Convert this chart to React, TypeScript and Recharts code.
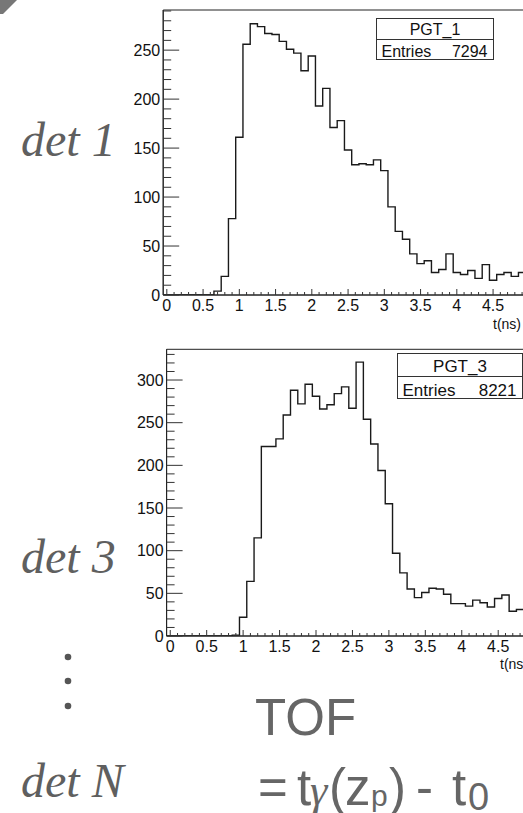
import { LineChart, Line, XAxis, YAxis, ReferenceArea } from 'recharts';

// bin centres (ns), both detectors share the same binning
const tBins = [
  0, 0.1, 0.2, 0.3, 0.4, 0.5, 0.6, 0.7, 0.8, 0.9,
  1, 1.1, 1.2, 1.3, 1.4, 1.5, 1.6, 1.7, 1.8, 1.9,
  2, 2.1, 2.2, 2.3, 2.4, 2.5, 2.6, 2.7, 2.8, 2.9,
  3, 3.1, 3.2, 3.3, 3.4, 3.5, 3.6, 3.7, 3.8, 3.9,
  4, 4.1, 4.2, 4.3, 4.4, 4.5, 4.6, 4.7, 4.8, 4.9,
];

const pgt1Counts = [
  0, 0, 0, 0, 0, 0, 0, 4, 19, 78,
  161, 256, 277, 274, 267, 266, 259, 251, 247, 229,
  244, 193, 211, 171, 178, 148, 133, 134, 133, 138,
  127, 90, 65, 57, 42, 32, 35, 23, 26, 42,
  23, 21, 25, 17, 31, 15, 21, 23, 19, 23,
];

const pgt3Counts = [
  0, 0, 0, 0, 0, 0, 0, 0, 0, 1,
  22, 64, 115, 222, 222, 231, 259, 288, 272, 295,
  281, 266, 271, 284, 292, 267, 321, 254, 225, 194,
  155, 97, 74, 55, 45, 51, 56, 55, 49, 38,
  38, 35, 42, 39, 34, 44, 48, 29, 31, 30,
];

const xTicks = tBins;
const xMajorTicks = [0, 0.5, 1, 1.5, 2, 2.5, 3, 3.5, 4, 4.5];

const y1Ticks = [
  0, 10, 20, 30, 40, 50, 60, 70, 80, 90, 100, 110, 120, 130, 140, 150,
  160, 170, 180, 190, 200, 210, 220, 230, 240, 250, 260, 270, 280, 290,
];
const y1MajorTicks = [0, 50, 100, 150, 200, 250];

const y3Ticks = [
  0, 10, 20, 30, 40, 50, 60, 70, 80, 90, 100, 110, 120, 130, 140, 150, 160,
  170, 180, 190, 200, 210, 220, 230, 240, 250, 260, 270, 280, 290, 300, 310,
  320, 330,
];
const y3MajorTicks = [0, 50, 100, 150, 200, 250, 300];

const BIN_HALF = 0.05;
const X_DOMAIN = [-0.05, 4.95];

const SANS = '"Liberation Sans", Arial, Helvetica, sans-serif';
const SERIF = '"Liberation Serif", "Times New Roman", serif';
const INK = '#1a1a1a';

function histEdges(counts: number[]) {
  const rows = tBins.map((c, i) => ({ t: c - BIN_HALF, n: counts[i] }));
  const last = tBins.length - 1;
  rows.push({ t: tBins[last] + BIN_HALF, n: counts[last] });
  return rows;
}

const YTick = (props: any) => {
  const { x, y, payload, majors } = props;
  const major = majors.includes(payload.value);
  return (
    <g>
      <line x1={x} x2={x + (major ? 16 : 8)} y1={y} y2={y} stroke="#333" strokeWidth={1} />
      {major && (
        <text x={x - 3} y={y} dy="0.35em" textAnchor="end" fontSize={16} fontFamily={SANS} fill="#111">
          {payload.value}
        </text>
      )}
    </g>
  );
};

const XTick = (props: any) => {
  const { x, y, payload } = props;
  const v = payload.value as number;
  const major = xMajorTicks.some((m) => Math.abs(m - v) < 1e-6);
  return (
    <g>
      <line x1={x} x2={x} y1={y} y2={y - (major ? 6 : 3)} stroke="#333" strokeWidth={1} />
      {major && (
        <text x={x} y={y + 16} textAnchor="middle" fontSize={16} fontFamily={SANS} fill="#111">
          {String(v)}
        </text>
      )}
    </g>
  );
};

function Histo({
  counts,
  width,
  height,
  margin,
  yMax,
  yTicks,
  yMajors,
}: {
  counts: number[];
  width: number;
  height: number;
  margin: { top: number; right: number; left: number; bottom: number };
  yMax: number;
  yTicks: number[];
  yMajors: number[];
}) {
  return (
    <LineChart width={width} height={height} data={histEdges(counts)} margin={margin}>
      <XAxis
        dataKey="t"
        type="number"
        domain={X_DOMAIN}
        ticks={xTicks}
        interval={0}
        height={40}
        tickSize={0}
        tickMargin={0}
        tickLine={false}
        axisLine={{ stroke: '#222' }}
        tick={(p: any) => <XTick {...p} />}
        allowDataOverflow
      />
      <YAxis
        type="number"
        domain={[0, yMax]}
        ticks={yTicks}
        interval={0}
        width={40}
        tickSize={0}
        tickMargin={0}
        tickLine={false}
        axisLine={{ stroke: '#222' }}
        tick={(p: any) => <YTick {...p} majors={yMajors} />}
        allowDataOverflow
      />
      <ReferenceArea x1={X_DOMAIN[0]} x2={X_DOMAIN[1]} y1={0} y2={yMax} fill="none" stroke="#222" />
      <Line
        type="stepAfter"
        dataKey="n"
        stroke={INK}
        strokeWidth={1.4}
        dot={false}
        isAnimationActive={false}
      />
    </LineChart>
  );
}

function StatBox({ x, y, w, h, split, name, entries, size }: any) {
  return (
    <g>
      <rect x={x} y={y} width={w} height={h} fill="#fff" stroke="#333" strokeWidth={1} />
      <line x1={x} x2={x + w} y1={split} y2={split} stroke="#333" strokeWidth={1} />
      <text x={x + w / 2} y={split - 5} textAnchor="middle" fontSize={size} fontFamily={SANS} fill="#111">
        {name}
      </text>
      <text x={x + 5} y={y + h - 3} fontSize={size} fontFamily={SANS} fill="#111">
        Entries
      </text>
      <text x={x + w - 6} y={y + h - 3} textAnchor="end" fontSize={size} fontFamily={SANS} fill="#111">
        {entries}
      </text>
    </g>
  );
}

export default function App() {
  const label = { fontFamily: SERIF, fontStyle: 'italic', fontSize: 48, fill: '#5f5f5f' } as const;
  const big = { fontFamily: SANS, fontSize: 51, fill: '#666' } as const;
  return (
    <div
      style={{
        position: 'absolute',
        left: 0,
        top: 0,
        width: 523,
        height: 813,
        overflow: 'hidden',
        background: '#fff',
      }}
    >
      <div style={{ position: 'absolute', left: 0, top: 0 }}>
        <Histo
          counts={pgt1Counts}
          width={526}
          height={335}
          margin={{ top: 10, right: 0.3, left: 123.2, bottom: 0 }}
          yMax={291}
          yTicks={y1Ticks}
          yMajors={y1MajorTicks}
        />
      </div>
      <div style={{ position: 'absolute', left: 0, top: 300 }}>
        <Histo
          counts={pgt3Counts}
          width={531}
          height={376}
          margin={{ top: 49.3, right: 0, left: 126.6, bottom: 0 }}
          yMax={336}
          yTicks={y3Ticks}
          yMajors={y3MajorTicks}
        />
      </div>
      <svg
        width={523}
        height={813}
        style={{ position: 'absolute', left: 0, top: 0, pointerEvents: 'none' }}
      >
        <polygon points="0,0 17,0 3,14 0,14" fill="#777" />

        <StatBox x={376.5} y={18.5} w={117} h={41} split={39.5} name="PGT_1" entries="7294" size={16} />
        <StatBox x={397.5} y={353.5} w={125} h={45} split={376.5} name="PGT_3" entries="8221" size={17} />

        <text x={493} y={329} fontSize={14} fontFamily={SANS} fill="#111">t(ns)</text>
        <text x={500} y={669} fontSize={14} fontFamily={SANS} fill="#111">t(ns)</text>

        <text x={21} y={156} style={label}>det 1</text>
        <text x={21} y={573} style={label}>det 3</text>
        <text x={21} y={797} style={label}>det N</text>
        <circle cx={68} cy={657} r={3.3} fill="#555" />
        <circle cx={68} cy={681} r={3.3} fill="#555" />
        <circle cx={68} cy={706} r={3.3} fill="#555" />

        <text x={255} y={735} style={big}>TOF</text>
        <text x={258} y={805} style={big}>=</text>
        <text x={297} y={805} style={big}>t</text>
        <text x={310} y={805} fontFamily={SERIF} fontStyle="italic" fontSize={44} fill="#666">γ</text>
        <text x={329} y={805} style={big}>(</text>
        <text x={345} y={805} style={big}>z</text>
        <text x={371} y={806} fontFamily={SANS} fontSize={30} fill="#666">p</text>
        <text x={389} y={805} style={big}>)</text>
        <text x={416} y={805} style={big}>-</text>
        <text x={452} y={805} style={big}>t</text>
        <text x={468} y={810} fontFamily={SANS} fontSize={38} fill="#666">0</text>
      </svg>
    </div>
  );
}
